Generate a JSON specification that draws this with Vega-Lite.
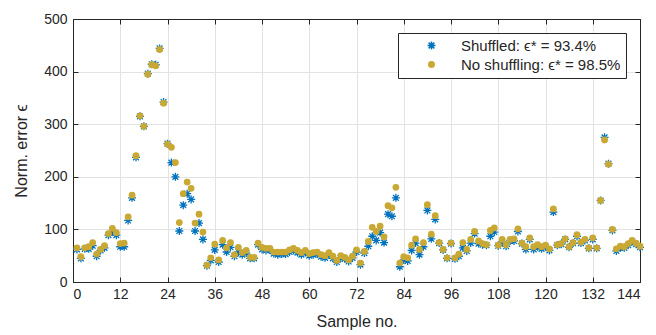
{
  "$schema": "https://vega.github.io/schema/vega-lite/v6.json",
  "autosize": "none",
  "width": 567,
  "height": 263,
  "padding": {"left": 73, "top": 19, "right": 16, "bottom": 53},
  "background": "white",
  "config": {
    "font": "Liberation Sans",
    "view": {"stroke": "#262626", "strokeWidth": 1},
    "axis": {
      "domainColor": "#262626",
      "tickColor": "#262626",
      "labelColor": "#262626",
      "titleColor": "#262626",
      "labelFont": "Liberation Sans",
      "titleFont": "Liberation Sans",
      "labelFontSize": 14,
      "titleFontSize": 16,
      "titleFontWeight": "normal",
      "gridColor": "#E3E3E3",
      "gridWidth": 1,
      "tickSize": -5,
      "labelPadding": 6
    }
  },
  "data": {
    "values": [
      {"x":1,"y":62,"s":"Shuffled: ϵ* = 93.4%"},{"x":2,"y":45,"s":"Shuffled: ϵ* = 93.4%"},{"x":3,"y":63,"s":"Shuffled: ϵ* = 93.4%"},{"x":4,"y":63,"s":"Shuffled: ϵ* = 93.4%"},{"x":5,"y":69,"s":"Shuffled: ϵ* = 93.4%"},{"x":6,"y":49,"s":"Shuffled: ϵ* = 93.4%"},{"x":7,"y":60,"s":"Shuffled: ϵ* = 93.4%"},{"x":8,"y":65,"s":"Shuffled: ϵ* = 93.4%"},{"x":9,"y":89,"s":"Shuffled: ϵ* = 93.4%"},{"x":10,"y":95,"s":"Shuffled: ϵ* = 93.4%"},
      {"x":11,"y":89,"s":"Shuffled: ϵ* = 93.4%"},{"x":12,"y":67,"s":"Shuffled: ϵ* = 93.4%"},{"x":13,"y":67,"s":"Shuffled: ϵ* = 93.4%"},{"x":14,"y":117,"s":"Shuffled: ϵ* = 93.4%"},{"x":15,"y":160,"s":"Shuffled: ϵ* = 93.4%"},{"x":16,"y":237,"s":"Shuffled: ϵ* = 93.4%"},{"x":17,"y":315,"s":"Shuffled: ϵ* = 93.4%"},{"x":18,"y":296,"s":"Shuffled: ϵ* = 93.4%"},{"x":19,"y":396,"s":"Shuffled: ϵ* = 93.4%"},{"x":20,"y":414,"s":"Shuffled: ϵ* = 93.4%"},
      {"x":21,"y":413,"s":"Shuffled: ϵ* = 93.4%"},{"x":22,"y":444,"s":"Shuffled: ϵ* = 93.4%"},{"x":23,"y":342,"s":"Shuffled: ϵ* = 93.4%"},{"x":24,"y":263,"s":"Shuffled: ϵ* = 93.4%"},{"x":25,"y":227,"s":"Shuffled: ϵ* = 93.4%"},{"x":26,"y":200,"s":"Shuffled: ϵ* = 93.4%"},{"x":27,"y":97,"s":"Shuffled: ϵ* = 93.4%"},{"x":28,"y":146,"s":"Shuffled: ϵ* = 93.4%"},{"x":29,"y":168,"s":"Shuffled: ϵ* = 93.4%"},{"x":30,"y":157,"s":"Shuffled: ϵ* = 93.4%"},
      {"x":31,"y":97,"s":"Shuffled: ϵ* = 93.4%"},{"x":32,"y":112,"s":"Shuffled: ϵ* = 93.4%"},{"x":33,"y":81,"s":"Shuffled: ϵ* = 93.4%"},{"x":34,"y":31,"s":"Shuffled: ϵ* = 93.4%"},{"x":35,"y":41,"s":"Shuffled: ϵ* = 93.4%"},{"x":36,"y":61,"s":"Shuffled: ϵ* = 93.4%"},{"x":37,"y":38,"s":"Shuffled: ϵ* = 93.4%"},{"x":38,"y":71,"s":"Shuffled: ϵ* = 93.4%"},{"x":39,"y":57,"s":"Shuffled: ϵ* = 93.4%"},{"x":40,"y":66,"s":"Shuffled: ϵ* = 93.4%"},
      {"x":41,"y":49,"s":"Shuffled: ϵ* = 93.4%"},{"x":42,"y":57,"s":"Shuffled: ϵ* = 93.4%"},{"x":43,"y":52,"s":"Shuffled: ϵ* = 93.4%"},{"x":44,"y":55,"s":"Shuffled: ϵ* = 93.4%"},{"x":45,"y":45,"s":"Shuffled: ϵ* = 93.4%"},{"x":46,"y":45,"s":"Shuffled: ϵ* = 93.4%"},{"x":47,"y":71,"s":"Shuffled: ϵ* = 93.4%"},{"x":48,"y":62,"s":"Shuffled: ϵ* = 93.4%"},{"x":49,"y":60,"s":"Shuffled: ϵ* = 93.4%"},{"x":50,"y":61,"s":"Shuffled: ϵ* = 93.4%"},
      {"x":51,"y":54,"s":"Shuffled: ϵ* = 93.4%"},{"x":52,"y":52,"s":"Shuffled: ϵ* = 93.4%"},{"x":53,"y":53,"s":"Shuffled: ϵ* = 93.4%"},{"x":54,"y":53,"s":"Shuffled: ϵ* = 93.4%"},{"x":55,"y":57,"s":"Shuffled: ϵ* = 93.4%"},{"x":56,"y":60,"s":"Shuffled: ϵ* = 93.4%"},{"x":57,"y":56,"s":"Shuffled: ϵ* = 93.4%"},{"x":58,"y":52,"s":"Shuffled: ϵ* = 93.4%"},{"x":59,"y":56,"s":"Shuffled: ϵ* = 93.4%"},{"x":60,"y":50,"s":"Shuffled: ϵ* = 93.4%"},
      {"x":61,"y":52,"s":"Shuffled: ϵ* = 93.4%"},{"x":62,"y":53,"s":"Shuffled: ϵ* = 93.4%"},{"x":63,"y":48,"s":"Shuffled: ϵ* = 93.4%"},{"x":64,"y":46,"s":"Shuffled: ϵ* = 93.4%"},{"x":65,"y":52,"s":"Shuffled: ϵ* = 93.4%"},{"x":66,"y":45,"s":"Shuffled: ϵ* = 93.4%"},{"x":67,"y":38,"s":"Shuffled: ϵ* = 93.4%"},{"x":68,"y":46,"s":"Shuffled: ϵ* = 93.4%"},{"x":69,"y":44,"s":"Shuffled: ϵ* = 93.4%"},{"x":70,"y":39,"s":"Shuffled: ϵ* = 93.4%"},
      {"x":71,"y":46,"s":"Shuffled: ϵ* = 93.4%"},{"x":72,"y":57,"s":"Shuffled: ϵ* = 93.4%"},{"x":73,"y":33,"s":"Shuffled: ϵ* = 93.4%"},{"x":74,"y":55,"s":"Shuffled: ϵ* = 93.4%"},{"x":75,"y":68,"s":"Shuffled: ϵ* = 93.4%"},{"x":76,"y":87,"s":"Shuffled: ϵ* = 93.4%"},{"x":77,"y":79,"s":"Shuffled: ϵ* = 93.4%"},{"x":78,"y":94,"s":"Shuffled: ϵ* = 93.4%"},{"x":79,"y":75,"s":"Shuffled: ϵ* = 93.4%"},{"x":80,"y":129,"s":"Shuffled: ϵ* = 93.4%"},
      {"x":81,"y":125,"s":"Shuffled: ϵ* = 93.4%"},{"x":82,"y":160,"s":"Shuffled: ϵ* = 93.4%"},{"x":83,"y":29,"s":"Shuffled: ϵ* = 93.4%"},{"x":84,"y":42,"s":"Shuffled: ϵ* = 93.4%"},{"x":85,"y":40,"s":"Shuffled: ϵ* = 93.4%"},{"x":86,"y":60,"s":"Shuffled: ϵ* = 93.4%"},{"x":87,"y":74,"s":"Shuffled: ϵ* = 93.4%"},{"x":88,"y":52,"s":"Shuffled: ϵ* = 93.4%"},{"x":89,"y":67,"s":"Shuffled: ϵ* = 93.4%"},{"x":90,"y":136,"s":"Shuffled: ϵ* = 93.4%"},
      {"x":91,"y":82,"s":"Shuffled: ϵ* = 93.4%"},{"x":92,"y":119,"s":"Shuffled: ϵ* = 93.4%"},{"x":93,"y":74,"s":"Shuffled: ϵ* = 93.4%"},{"x":94,"y":61,"s":"Shuffled: ϵ* = 93.4%"},{"x":95,"y":45,"s":"Shuffled: ϵ* = 93.4%"},{"x":96,"y":73,"s":"Shuffled: ϵ* = 93.4%"},{"x":97,"y":44,"s":"Shuffled: ϵ* = 93.4%"},{"x":98,"y":49,"s":"Shuffled: ϵ* = 93.4%"},{"x":99,"y":65,"s":"Shuffled: ϵ* = 93.4%"},{"x":100,"y":59,"s":"Shuffled: ϵ* = 93.4%"},
      {"x":101,"y":74,"s":"Shuffled: ϵ* = 93.4%"},{"x":102,"y":92,"s":"Shuffled: ϵ* = 93.4%"},{"x":103,"y":73,"s":"Shuffled: ϵ* = 93.4%"},{"x":104,"y":71,"s":"Shuffled: ϵ* = 93.4%"},{"x":105,"y":70,"s":"Shuffled: ϵ* = 93.4%"},{"x":106,"y":87,"s":"Shuffled: ϵ* = 93.4%"},{"x":107,"y":95,"s":"Shuffled: ϵ* = 93.4%"},{"x":108,"y":69,"s":"Shuffled: ϵ* = 93.4%"},{"x":109,"y":76,"s":"Shuffled: ϵ* = 93.4%"},{"x":110,"y":68,"s":"Shuffled: ϵ* = 93.4%"},
      {"x":111,"y":78,"s":"Shuffled: ϵ* = 93.4%"},{"x":112,"y":78,"s":"Shuffled: ϵ* = 93.4%"},{"x":113,"y":96,"s":"Shuffled: ϵ* = 93.4%"},{"x":114,"y":73,"s":"Shuffled: ϵ* = 93.4%"},{"x":115,"y":62,"s":"Shuffled: ϵ* = 93.4%"},{"x":116,"y":81,"s":"Shuffled: ϵ* = 93.4%"},{"x":117,"y":62,"s":"Shuffled: ϵ* = 93.4%"},{"x":118,"y":67,"s":"Shuffled: ϵ* = 93.4%"},{"x":119,"y":63,"s":"Shuffled: ϵ* = 93.4%"},{"x":120,"y":67,"s":"Shuffled: ϵ* = 93.4%"},
      {"x":121,"y":60,"s":"Shuffled: ϵ* = 93.4%"},{"x":122,"y":133,"s":"Shuffled: ϵ* = 93.4%"},{"x":123,"y":70,"s":"Shuffled: ϵ* = 93.4%"},{"x":124,"y":72,"s":"Shuffled: ϵ* = 93.4%"},{"x":125,"y":81,"s":"Shuffled: ϵ* = 93.4%"},{"x":126,"y":66,"s":"Shuffled: ϵ* = 93.4%"},{"x":127,"y":74,"s":"Shuffled: ϵ* = 93.4%"},{"x":128,"y":87,"s":"Shuffled: ϵ* = 93.4%"},{"x":129,"y":74,"s":"Shuffled: ϵ* = 93.4%"},{"x":130,"y":79,"s":"Shuffled: ϵ* = 93.4%"},
      {"x":131,"y":64,"s":"Shuffled: ϵ* = 93.4%"},{"x":132,"y":81,"s":"Shuffled: ϵ* = 93.4%"},{"x":133,"y":64,"s":"Shuffled: ϵ* = 93.4%"},{"x":134,"y":155,"s":"Shuffled: ϵ* = 93.4%"},{"x":135,"y":275,"s":"Shuffled: ϵ* = 93.4%"},{"x":136,"y":225,"s":"Shuffled: ϵ* = 93.4%"},{"x":137,"y":98,"s":"Shuffled: ϵ* = 93.4%"},{"x":138,"y":59,"s":"Shuffled: ϵ* = 93.4%"},{"x":139,"y":65,"s":"Shuffled: ϵ* = 93.4%"},{"x":140,"y":65,"s":"Shuffled: ϵ* = 93.4%"},
      {"x":141,"y":70,"s":"Shuffled: ϵ* = 93.4%"},{"x":142,"y":77,"s":"Shuffled: ϵ* = 93.4%"},{"x":143,"y":72,"s":"Shuffled: ϵ* = 93.4%"},{"x":144,"y":66,"s":"Shuffled: ϵ* = 93.4%"},
      {"x":1,"y":65,"s":"No shuffling: ϵ* = 98.5%"},{"x":2,"y":48,"s":"No shuffling: ϵ* = 98.5%"},{"x":3,"y":65,"s":"No shuffling: ϵ* = 98.5%"},{"x":4,"y":67,"s":"No shuffling: ϵ* = 98.5%"},{"x":5,"y":75,"s":"No shuffling: ϵ* = 98.5%"},{"x":6,"y":53,"s":"No shuffling: ϵ* = 98.5%"},{"x":7,"y":62,"s":"No shuffling: ϵ* = 98.5%"},{"x":8,"y":69,"s":"No shuffling: ϵ* = 98.5%"},{"x":9,"y":92,"s":"No shuffling: ϵ* = 98.5%"},{"x":10,"y":102,"s":"No shuffling: ϵ* = 98.5%"},
      {"x":11,"y":94,"s":"No shuffling: ϵ* = 98.5%"},{"x":12,"y":73,"s":"No shuffling: ϵ* = 98.5%"},{"x":13,"y":74,"s":"No shuffling: ϵ* = 98.5%"},{"x":14,"y":124,"s":"No shuffling: ϵ* = 98.5%"},{"x":15,"y":165,"s":"No shuffling: ϵ* = 98.5%"},{"x":16,"y":240,"s":"No shuffling: ϵ* = 98.5%"},{"x":17,"y":316,"s":"No shuffling: ϵ* = 98.5%"},{"x":18,"y":296,"s":"No shuffling: ϵ* = 98.5%"},{"x":19,"y":395,"s":"No shuffling: ϵ* = 98.5%"},{"x":20,"y":413,"s":"No shuffling: ϵ* = 98.5%"},
      {"x":21,"y":411,"s":"No shuffling: ϵ* = 98.5%"},{"x":22,"y":442,"s":"No shuffling: ϵ* = 98.5%"},{"x":23,"y":340,"s":"No shuffling: ϵ* = 98.5%"},{"x":24,"y":262,"s":"No shuffling: ϵ* = 98.5%"},{"x":25,"y":256,"s":"No shuffling: ϵ* = 98.5%"},{"x":26,"y":227,"s":"No shuffling: ϵ* = 98.5%"},{"x":27,"y":113,"s":"No shuffling: ϵ* = 98.5%"},{"x":28,"y":168,"s":"No shuffling: ϵ* = 98.5%"},{"x":29,"y":190,"s":"No shuffling: ϵ* = 98.5%"},{"x":30,"y":178,"s":"No shuffling: ϵ* = 98.5%"},
      {"x":31,"y":112,"s":"No shuffling: ϵ* = 98.5%"},{"x":32,"y":129,"s":"No shuffling: ϵ* = 98.5%"},{"x":33,"y":95,"s":"No shuffling: ϵ* = 98.5%"},{"x":34,"y":32,"s":"No shuffling: ϵ* = 98.5%"},{"x":35,"y":46,"s":"No shuffling: ϵ* = 98.5%"},{"x":36,"y":72,"s":"No shuffling: ϵ* = 98.5%"},{"x":37,"y":42,"s":"No shuffling: ϵ* = 98.5%"},{"x":38,"y":79,"s":"No shuffling: ϵ* = 98.5%"},{"x":39,"y":65,"s":"No shuffling: ϵ* = 98.5%"},{"x":40,"y":75,"s":"No shuffling: ϵ* = 98.5%"},
      {"x":41,"y":52,"s":"No shuffling: ϵ* = 98.5%"},{"x":42,"y":66,"s":"No shuffling: ϵ* = 98.5%"},{"x":43,"y":56,"s":"No shuffling: ϵ* = 98.5%"},{"x":44,"y":60,"s":"No shuffling: ϵ* = 98.5%"},{"x":45,"y":47,"s":"No shuffling: ϵ* = 98.5%"},{"x":46,"y":47,"s":"No shuffling: ϵ* = 98.5%"},{"x":47,"y":74,"s":"No shuffling: ϵ* = 98.5%"},{"x":48,"y":66,"s":"No shuffling: ϵ* = 98.5%"},{"x":49,"y":64,"s":"No shuffling: ϵ* = 98.5%"},{"x":50,"y":64,"s":"No shuffling: ϵ* = 98.5%"},
      {"x":51,"y":57,"s":"No shuffling: ϵ* = 98.5%"},{"x":52,"y":57,"s":"No shuffling: ϵ* = 98.5%"},{"x":53,"y":57,"s":"No shuffling: ϵ* = 98.5%"},{"x":54,"y":57,"s":"No shuffling: ϵ* = 98.5%"},{"x":55,"y":61,"s":"No shuffling: ϵ* = 98.5%"},{"x":56,"y":64,"s":"No shuffling: ϵ* = 98.5%"},{"x":57,"y":60,"s":"No shuffling: ϵ* = 98.5%"},{"x":58,"y":56,"s":"No shuffling: ϵ* = 98.5%"},{"x":59,"y":60,"s":"No shuffling: ϵ* = 98.5%"},{"x":60,"y":54,"s":"No shuffling: ϵ* = 98.5%"},
      {"x":61,"y":56,"s":"No shuffling: ϵ* = 98.5%"},{"x":62,"y":57,"s":"No shuffling: ϵ* = 98.5%"},{"x":63,"y":52,"s":"No shuffling: ϵ* = 98.5%"},{"x":64,"y":50,"s":"No shuffling: ϵ* = 98.5%"},{"x":65,"y":56,"s":"No shuffling: ϵ* = 98.5%"},{"x":66,"y":49,"s":"No shuffling: ϵ* = 98.5%"},{"x":67,"y":41,"s":"No shuffling: ϵ* = 98.5%"},{"x":68,"y":50,"s":"No shuffling: ϵ* = 98.5%"},{"x":69,"y":47,"s":"No shuffling: ϵ* = 98.5%"},{"x":70,"y":42,"s":"No shuffling: ϵ* = 98.5%"},
      {"x":71,"y":49,"s":"No shuffling: ϵ* = 98.5%"},{"x":72,"y":61,"s":"No shuffling: ϵ* = 98.5%"},{"x":73,"y":36,"s":"No shuffling: ϵ* = 98.5%"},{"x":74,"y":58,"s":"No shuffling: ϵ* = 98.5%"},{"x":75,"y":77,"s":"No shuffling: ϵ* = 98.5%"},{"x":76,"y":104,"s":"No shuffling: ϵ* = 98.5%"},{"x":77,"y":96,"s":"No shuffling: ϵ* = 98.5%"},{"x":78,"y":106,"s":"No shuffling: ϵ* = 98.5%"},{"x":79,"y":86,"s":"No shuffling: ϵ* = 98.5%"},{"x":80,"y":145,"s":"No shuffling: ϵ* = 98.5%"},
      {"x":81,"y":141,"s":"No shuffling: ϵ* = 98.5%"},{"x":82,"y":180,"s":"No shuffling: ϵ* = 98.5%"},{"x":83,"y":36,"s":"No shuffling: ϵ* = 98.5%"},{"x":84,"y":48,"s":"No shuffling: ϵ* = 98.5%"},{"x":85,"y":46,"s":"No shuffling: ϵ* = 98.5%"},{"x":86,"y":70,"s":"No shuffling: ϵ* = 98.5%"},{"x":87,"y":82,"s":"No shuffling: ϵ* = 98.5%"},{"x":88,"y":62,"s":"No shuffling: ϵ* = 98.5%"},{"x":89,"y":75,"s":"No shuffling: ϵ* = 98.5%"},{"x":90,"y":147,"s":"No shuffling: ϵ* = 98.5%"},
      {"x":91,"y":91,"s":"No shuffling: ϵ* = 98.5%"},{"x":92,"y":126,"s":"No shuffling: ϵ* = 98.5%"},{"x":93,"y":75,"s":"No shuffling: ϵ* = 98.5%"},{"x":94,"y":62,"s":"No shuffling: ϵ* = 98.5%"},{"x":95,"y":46,"s":"No shuffling: ϵ* = 98.5%"},{"x":96,"y":74,"s":"No shuffling: ϵ* = 98.5%"},{"x":97,"y":46,"s":"No shuffling: ϵ* = 98.5%"},{"x":98,"y":53,"s":"No shuffling: ϵ* = 98.5%"},{"x":99,"y":75,"s":"No shuffling: ϵ* = 98.5%"},{"x":100,"y":62,"s":"No shuffling: ϵ* = 98.5%"},
      {"x":101,"y":81,"s":"No shuffling: ϵ* = 98.5%"},{"x":102,"y":96,"s":"No shuffling: ϵ* = 98.5%"},{"x":103,"y":78,"s":"No shuffling: ϵ* = 98.5%"},{"x":104,"y":73,"s":"No shuffling: ϵ* = 98.5%"},{"x":105,"y":71,"s":"No shuffling: ϵ* = 98.5%"},{"x":106,"y":98,"s":"No shuffling: ϵ* = 98.5%"},{"x":107,"y":103,"s":"No shuffling: ϵ* = 98.5%"},{"x":108,"y":70,"s":"No shuffling: ϵ* = 98.5%"},{"x":109,"y":81,"s":"No shuffling: ϵ* = 98.5%"},{"x":110,"y":71,"s":"No shuffling: ϵ* = 98.5%"},
      {"x":111,"y":81,"s":"No shuffling: ϵ* = 98.5%"},{"x":112,"y":82,"s":"No shuffling: ϵ* = 98.5%"},{"x":113,"y":101,"s":"No shuffling: ϵ* = 98.5%"},{"x":114,"y":74,"s":"No shuffling: ϵ* = 98.5%"},{"x":115,"y":67,"s":"No shuffling: ϵ* = 98.5%"},{"x":116,"y":84,"s":"No shuffling: ϵ* = 98.5%"},{"x":117,"y":67,"s":"No shuffling: ϵ* = 98.5%"},{"x":118,"y":71,"s":"No shuffling: ϵ* = 98.5%"},{"x":119,"y":67,"s":"No shuffling: ϵ* = 98.5%"},{"x":120,"y":70,"s":"No shuffling: ϵ* = 98.5%"},
      {"x":121,"y":63,"s":"No shuffling: ϵ* = 98.5%"},{"x":122,"y":139,"s":"No shuffling: ϵ* = 98.5%"},{"x":123,"y":71,"s":"No shuffling: ϵ* = 98.5%"},{"x":124,"y":73,"s":"No shuffling: ϵ* = 98.5%"},{"x":125,"y":82,"s":"No shuffling: ϵ* = 98.5%"},{"x":126,"y":67,"s":"No shuffling: ϵ* = 98.5%"},{"x":127,"y":75,"s":"No shuffling: ϵ* = 98.5%"},{"x":128,"y":90,"s":"No shuffling: ϵ* = 98.5%"},{"x":129,"y":76,"s":"No shuffling: ϵ* = 98.5%"},{"x":130,"y":81,"s":"No shuffling: ϵ* = 98.5%"},
      {"x":131,"y":65,"s":"No shuffling: ϵ* = 98.5%"},{"x":132,"y":84,"s":"No shuffling: ϵ* = 98.5%"},{"x":133,"y":65,"s":"No shuffling: ϵ* = 98.5%"},{"x":134,"y":155,"s":"No shuffling: ϵ* = 98.5%"},{"x":135,"y":270,"s":"No shuffling: ϵ* = 98.5%"},{"x":136,"y":224,"s":"No shuffling: ϵ* = 98.5%"},{"x":137,"y":100,"s":"No shuffling: ϵ* = 98.5%"},{"x":138,"y":63,"s":"No shuffling: ϵ* = 98.5%"},{"x":139,"y":68,"s":"No shuffling: ϵ* = 98.5%"},{"x":140,"y":67,"s":"No shuffling: ϵ* = 98.5%"},
      {"x":141,"y":73,"s":"No shuffling: ϵ* = 98.5%"},{"x":142,"y":79,"s":"No shuffling: ϵ* = 98.5%"},{"x":143,"y":74,"s":"No shuffling: ϵ* = 98.5%"},{"x":144,"y":68,"s":"No shuffling: ϵ* = 98.5%"}
    ]
  },
  "layer": [
    {
      "mark": {"type": "point", "opacity": 1, "strokeWidth": 1.3},
      "encoding": {
        "x": {
          "field": "x", "type": "quantitative",
          "scale": {"domain": [0, 144], "nice": false},
          "axis": {"values": [0,12,24,36,48,60,72,84,96,108,120,132,144], "title": "Sample no.", "grid": true, "labelPadding": 10, "titlePadding": 12}
        },
        "y": {
          "field": "y", "type": "quantitative",
          "scale": {"domain": [0, 500], "nice": false},
          "axis": {"values": [0,100,200,300,400,500], "title": "Norm. error ϵ", "grid": true, "labelPadding": 11, "titlePadding": 14}
        },
        "shape": {
          "field": "s", "type": "nominal",
          "scale": {"domain": ["Shuffled: ϵ* = 93.4%", "No shuffling: ϵ* = 98.5%"], "range": ["M-1,0L1,0M0,-1L0,1M-0.72,-0.72L0.72,0.72M-0.72,0.72L0.72,-0.72", "circle"]},
          "legend": {
            "title": null, "orient": "top-right", "offset": 14,
            "strokeColor": "#262626", "fillColor": "white",
            "padding": 5, "labelFontSize": 15, "labelFont": "Liberation Sans", "labelColor": "#262626",
            "symbolOffset": 21, "labelOffset": 22, "rowPadding": 3, "symbolSize": 40
          }
        },
        "stroke": {
          "field": "s", "type": "nominal",
          "scale": {"domain": ["Shuffled: ϵ* = 93.4%", "No shuffling: ϵ* = 98.5%"], "range": ["#0072BD", "#C9A934"]}
        },
        "fill": {
          "field": "s", "type": "nominal",
          "scale": {"domain": ["Shuffled: ϵ* = 93.4%", "No shuffling: ϵ* = 98.5%"], "range": ["rgba(0,0,0,0)", "#C9A934"]}
        },
        "size": {
          "field": "s", "type": "nominal",
          "scale": {"domain": ["Shuffled: ϵ* = 93.4%", "No shuffling: ϵ* = 98.5%"], "range": [64, 30]}
        }
      }
    },
    {
      "mark": {"type": "point", "opacity": 0},
      "encoding": {
        "x": {"field": "x", "type": "quantitative", "axis": {"orient": "top", "values": [0,12,24,36,48,60,72,84,96,108,120,132,144], "labels": false, "title": null, "grid": false}},
        "y": {"field": "y", "type": "quantitative", "axis": {"orient": "right", "values": [0,100,200,300,400,500], "labels": false, "title": null, "grid": false}}
      }
    }
  ],
  "resolve": {"axis": {"x": "independent", "y": "independent"}}
}
